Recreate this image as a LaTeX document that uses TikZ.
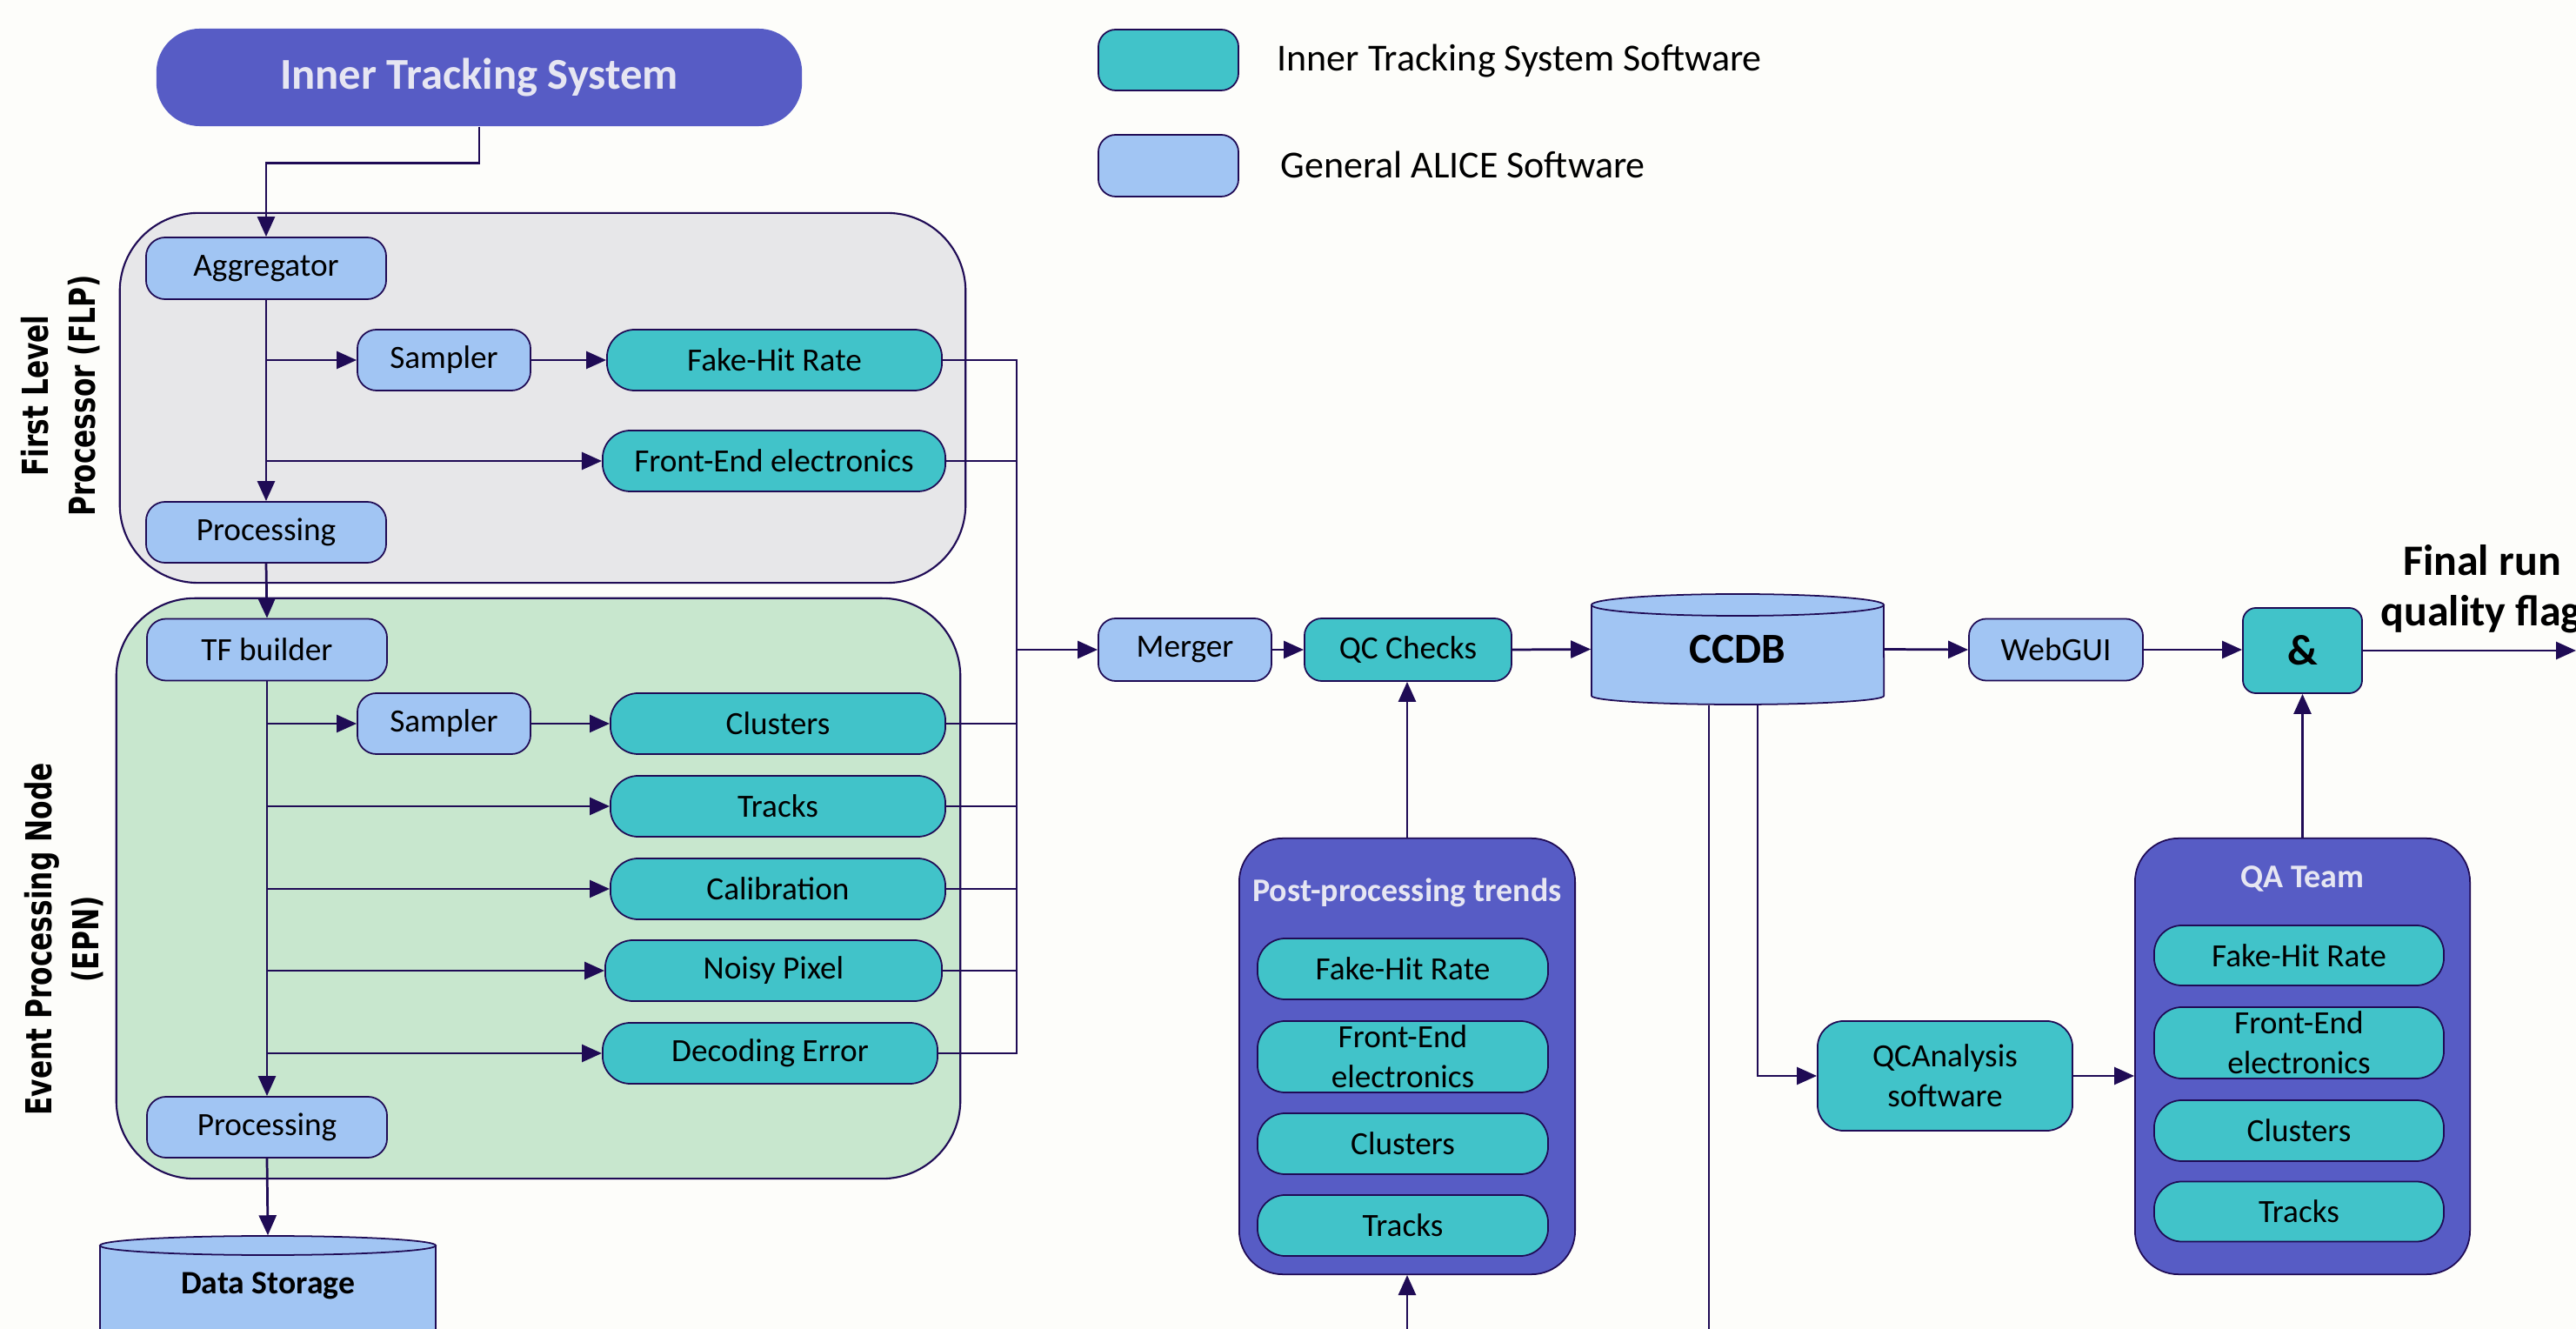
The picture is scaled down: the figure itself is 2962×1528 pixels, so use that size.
\documentclass[tikz,border=0pt]{standalone}
\usepackage{fontspec}
\setmainfont{Carlito}
\newfontfamily\lblfont{DejaVu Sans}[FakeStretch=0.76]
\usetikzlibrary{arrows.meta}
\definecolor{lineclr}{HTML}{1F0B55}
\definecolor{purp}{HTML}{575CC5}
\definecolor{itsteal}{HTML}{41C3C9}
\definecolor{alblue}{HTML}{A1C5F3}
\definecolor{flpclr}{HTML}{E7E7E9}
\definecolor{epnclr}{HTML}{C8E7CE}
\definecolor{titleclr}{HTML}{E6E6F2}
\definecolor{pagebg}{HTML}{FDFDFA}
\begin{document}
\begin{tikzpicture}[x=0.01cm, y=-0.01cm,
    base/.style = {draw=lineclr, line width=0.5pt, text=black, align=center, inner sep=0pt, font=\fontsize{10.6}{13.1}\selectfont},
    gen/.style = {base, fill=alblue, rounded corners=0.22cm, minimum height=0.71cm},
    its/.style = {base, fill=itsteal, rounded corners=0.32cm, minimum height=0.70cm},
    grp/.style = {draw=lineclr, line width=0.6pt, rounded corners=0.9cm},
    team/.style = {draw=lineclr, line width=0.5pt, fill=purp, rounded corners=0.5cm, minimum width=3.86cm, minimum height=5.01cm},
    ttl/.style = {text=titleclr, font=\fontsize{10.8}{13}\selectfont\bfseries},
    side/.style = {rotate=90, align=center, font=\lblfont\fontsize{11.7}{15.4}\selectfont\bfseries},
    conn/.style = {draw=lineclr, line width=0.78pt},
    arr/.style = {conn, -{Triangle[length=0.23cm,width=0.2cm]}}]
    \useasboundingbox (0,0) rectangle (2962,1528);
    \fill[pagebg] (0,0) rectangle (2962,1528);
    \clip (0,0) rectangle (2962,1528);

    \node[fill=purp, rounded corners=0.5cm, minimum width=7.42cm, minimum height=1.12cm, text=titleclr, font=\fontsize{14.4}{17}\selectfont\bfseries] (itsys) at (551,89) {Inner Tracking System};

    \node[its, rounded corners=0.2cm, minimum width=1.61cm] (lgits) at (1343.5,69) {};
    \node[anchor=west, inner sep=0pt, font=\fontsize{12.5}{15}\selectfont] (lgitstxt) at (1468,70) {Inner Tracking System Software};
    \node[gen, rounded corners=0.2cm, minimum width=1.61cm] (lggen) at (1343.5,190.5) {};
    \node[anchor=west, inner sep=0pt, font=\fontsize{12.5}{15}\selectfont] (lggentxt) at (1472,189) {General ALICE Software};

    \node[grp, fill=flpclr, minimum width=9.72cm, minimum height=4.25cm] (flp) at (624,457.5) {};
    \node[grp, fill=epnclr, minimum width=9.70cm, minimum height=6.67cm] (epn) at (619,1021.5) {};
    \node[side] (flplbl) at (70,455) {First Level\\Processor (FLP)};
    \node[side] (epnlbl) at (74,1080) {Event Processing Node\\(EPN)};

    \node[gen, minimum width=2.76cm] (agg) at (306,308.5) {Aggregator};
    \node[gen, minimum width=1.99cm, minimum height=0.70cm] (samp1) at (510.5,414) {Sampler};
    \node[its, minimum width=3.85cm] (fhr1) at (890.5,414) {Fake-Hit Rate};
    \node[its, minimum width=3.94cm] (fee1) at (890,530) {Front-End electronics};
    \node[gen, minimum width=2.76cm, minimum height=0.70cm] (proc1) at (306,612) {Processing};

    \node[gen, minimum width=2.76cm] (tfb) at (307,747) {TF builder};
    \node[gen, minimum width=1.99cm, minimum height=0.70cm] (samp2) at (510.5,832) {Sampler};
    \node[its, minimum width=3.85cm] (clus1) at (894.5,832) {Clusters};
    \node[its, minimum width=3.85cm] (trk1) at (894.5,927) {Tracks};
    \node[its, minimum width=3.85cm] (cal) at (894.5,1022) {Calibration};
    \node[its, minimum width=3.87cm] (noisy) at (889.5,1116) {Noisy Pixel};
    \node[its, minimum width=3.85cm] (dec) at (885.5,1211) {Decoding Error};
    \node[gen, minimum width=2.76cm, minimum height=0.70cm] (proc2) at (307,1296) {Processing};

    \draw[draw=lineclr, line width=0.5pt, fill=alblue] (115,1432) -- (115,1560) -- (501,1560) -- (501,1432);
    \draw[draw=lineclr, line width=0.5pt, fill=alblue] (308,1432) ellipse [x radius=1.93cm, y radius=0.11cm];
    \node[inner sep=0pt, minimum width=3.86cm, minimum height=1.14cm, font=\fontsize{10.7}{13}\selectfont\bfseries] (ds) at (308,1478) {Data Storage};

    \node[gen, rounded corners=0.2cm, minimum width=1.99cm, minimum height=0.72cm] (merger) at (1362.5,747) {Merger};
    \node[its, rounded corners=0.2cm, minimum width=2.38cm, minimum height=0.72cm] (qcc) at (1619,747) {QC Checks};

    \draw[draw=lineclr, line width=0.5pt, fill=alblue] (1830,695.5) -- (1830,800) arc[start angle=180, end angle=360, x radius=1.68cm, y radius=0.1cm] -- (2166,695.5);
    \draw[draw=lineclr, line width=0.5pt, fill=alblue] (1998,695.5) ellipse [x radius=1.68cm, y radius=0.125cm];
    \node[inner sep=0pt, minimum width=3.36cm, minimum height=1.27cm, font=\fontsize{14}{17}\selectfont\bfseries] (ccdb) at (1998,746.5) {CCDB};

    \node[gen, rounded corners=0.2cm, minimum width=2.00cm] (web) at (2364,747) {WebGUI};
    \node[its, rounded corners=0.15cm, minimum width=1.37cm, minimum height=0.98cm, font=\fontsize{14}{17}\selectfont\bfseries] (andb) at (2647.5,748) {\&};
    \coordinate (out) at (2962,748);
    \node[anchor=base, inner sep=0pt, font=\fontsize{14.2}{17}\selectfont\bfseries] (fin1) at (2854,662) {Final run};
    \node[anchor=base, inner sep=0pt, font=\fontsize{14.2}{17}\selectfont\bfseries] (fin2) at (2853,720) {quality flag};

    \node[team] (pp) at (1618,1214.5) {};
    \node[ttl] (pptitle) at (1618,1026) {Post-processing trends};
    \node[its, minimum width=3.34cm] (ppfhr) at (1613,1114) {Fake-Hit Rate};
    \node[its, minimum width=3.34cm, minimum height=0.82cm] (ppfee) at (1613,1215) {Front-End\\electronics};
    \node[its, minimum width=3.34cm] (ppclus) at (1613,1315) {Clusters};
    \node[its, minimum width=3.34cm] (pptrk) at (1613,1409) {Tracks};

    \node[its, rounded corners=0.3cm, minimum width=2.93cm, minimum height=1.26cm] (qcana) at (2236.5,1237) {QCAnalysis\\software};

    \node[team, minimum width=3.85cm] (qa) at (2647.5,1214.5) {};
    \node[ttl] (qatitle) at (2647.5,1010) {QA Team};
    \node[its, minimum width=3.33cm, minimum height=0.69cm] (qafhr) at (2643.5,1098.5) {Fake-Hit Rate};
    \node[its, minimum width=3.33cm, minimum height=0.82cm] (qafee) at (2643.5,1199) {Front-End\\electronics};
    \node[its, minimum width=3.33cm] (qaclus) at (2643.5,1300) {Clusters};
    \node[its, minimum width=3.33cm, minimum height=0.69cm] (qatrk) at (2643.5,1393) {Tracks};

    \draw[arr] (itsys.south) -- ++(0,42) -| (agg.north);
    \draw[arr] (agg.south) -- (proc1.north);
    \draw[arr] (agg.south |- samp1.west) -- (samp1.west);
    \draw[arr] (samp1.east) -- (fhr1.west);
    \draw[arr] (agg.south |- fee1.west) -- (fee1.west);
    \draw[arr] (proc1.south) -- (tfb.north);
    \draw[arr] (tfb.south) -- (proc2.north);
    \draw[arr] (tfb.south |- samp2.west) -- (samp2.west);
    \draw[arr] (samp2.east) -- (clus1.west);
    \foreach \n in {trk1, cal, noisy, dec}
        \draw[arr] (tfb.south |- \n.west) -- (\n.west);
    \draw[arr] (proc2.south) -- (ds.north);

    \coordinate (bus) at (1169,747);
    \foreach \n in {fhr1, fee1, clus1, trk1, cal, noisy, dec}
        \draw[conn] (\n.east) -| (bus);
    \draw[arr] (bus) -- (merger.west);
    \draw[arr] (merger.east) -- (qcc.west);
    \draw[arr] (qcc.east) -- (ccdb.west);
    \draw[arr] (ccdb.east) -- (web.west);
    \draw[arr] (web.east) -- (web.east -| andb.west);
    \draw[arr] (andb.east) -- (out);

    \draw[arr] (pp.north) -- (pp.north |- qcc.south);
    \draw[arr] (qa.north) -- (qa.north |- andb.south);
    \draw[arr] ([xshift=-0.33cm]ccdb.south) -- ++(0,800) -| (pp.south);
    \draw[arr] ([xshift=0.23cm]ccdb.south) |- (qcana.west);
    \draw[arr] (qcana.east) -- (qcana.east -| qa.west);
\end{tikzpicture}
\end{document}
